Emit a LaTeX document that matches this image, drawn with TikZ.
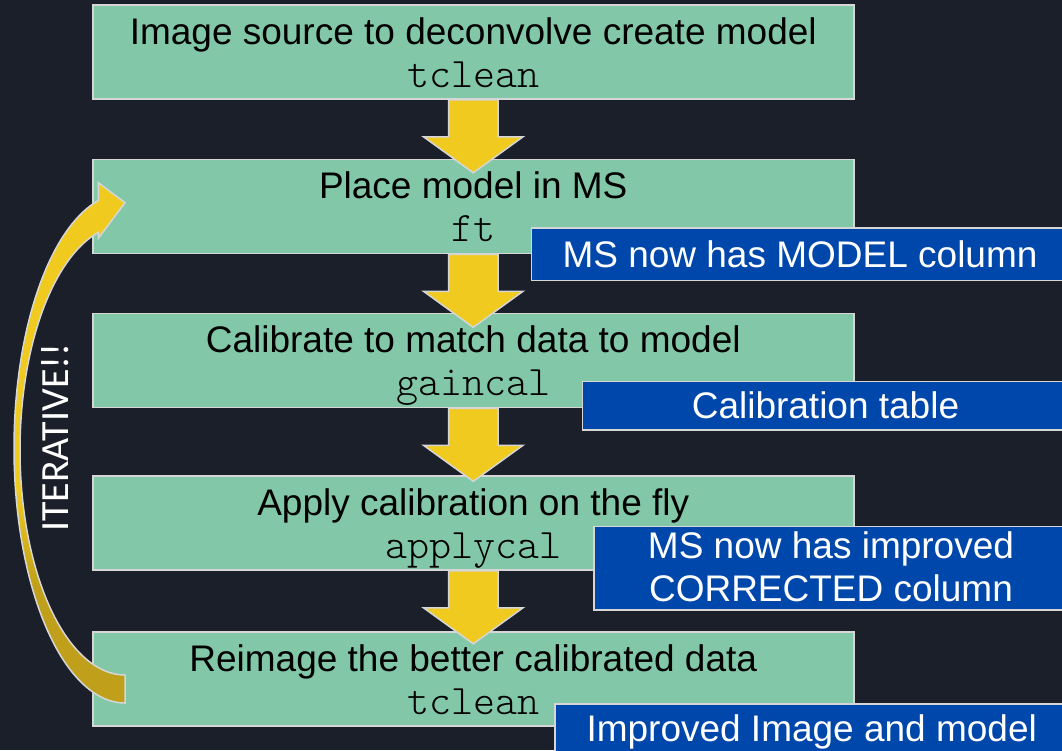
\documentclass[tikz,border=0pt]{standalone}
\usepackage{fontspec}
\setmainfont{Liberation Sans}
\setmonofont{Latin Modern Mono Light}
\newfontfamily\calib{Carlito}
\usetikzlibrary{calc}
\definecolor{bg}{HTML}{1B1F2A}
\definecolor{grn}{HTML}{82C8A8}
\definecolor{blu}{HTML}{0047AB}
\definecolor{yel}{HTML}{F0CA1E}
\definecolor{dkg}{HTML}{C0A01A}
\definecolor{edg}{HTML}{D6D6D6}
\newcommand\yarrow[1]{%
  \filldraw[yarr] ([xshift=-24.75pt]#1.south) -- ++(0,37) -- ++(-25,0)
    -- ([yshift=-73pt]#1.south) -- ([xshift=49.75pt,yshift=-37pt]#1.south)
    -- ++(-25,0) -- ([xshift=24.75pt]#1.south) -- cycle;}
\newcommand\curvypath{(125,703) -- plot[domain=90:256.1,samples=80] ({125+111*cos(\x)},{448+255*sin(\x)})
  -- (98.3,182.7) -- (125,202.7) -- (98.3,238.3)
  -- plot[domain=255.27:90,samples=80] ({125+105*cos(\x)},{450+225*sin(\x)}) -- cycle}
\begin{document}
\begin{tikzpicture}[x=1pt,y=-1pt,
  gbox/.style={draw=edg,line width=1.5pt,fill=grn,inner sep=0,minimum width=761pt,minimum height=94.3pt,anchor=north west},
  bluebox/.style={draw=edg,line width=1.5pt,fill=blu,inner sep=0,anchor=north west},
  yarr/.style={draw=edg,line width=1.5pt,fill=yel,line join=miter},
  tone/.style={font=\fontsize{37}{44}\selectfont,anchor=base,inner sep=0},
  ttwo/.style={font=\ttfamily\fontsize{42}{48}\selectfont,anchor=base,inner sep=0},
  wtxt/.style={tone,text=white}]
\useasboundingbox (0,0) rectangle (1062,750);
\fill[bg] (0,0) rectangle (1062,750);
\clip (0,0) rectangle (1062,750);
% green boxes
\node[gbox] (b1) at (92,4) {};
\node[gbox] (b2) at (92,158.5) {};
\node[gbox] (b3) at (92,312.5) {};
\node[gbox] (b4) at (92,475) {};
\node[gbox] (b5) at (92,631) {};
\node[tone] (b1a) at ([yshift=-40pt]b1.north) {Image source to deconvolve create model};
\node[ttwo] (b1b) at ([yshift=-83pt]b1.north) {tclean};
\node[tone] (b2a) at ([yshift=-40pt]b2.north) {Place model in MS};
\node[ttwo] (b2b) at ([yshift=-83pt]b2.north) {ft};
\node[tone] (b3a) at ([yshift=-40pt]b3.north) {Calibrate to match data to model};
\node[ttwo] (b3b) at ([yshift=-83pt]b3.north) {gaincal};
\node[tone] (b4a) at ([yshift=-40pt]b4.north) {Apply calibration on the fly};
\node[ttwo] (b4b) at ([yshift=-83pt]b4.north) {applycal};
\node[tone] (b5a) at ([yshift=-40pt]b5.north) {Reimage the better calibrated data};
\node[ttwo] (b5b) at ([yshift=-83pt]b5.north) {tclean};
% down arrows
\yarrow{b1}
\yarrow{b2}
\yarrow{b3}
\yarrow{b4}
% blue boxes
\node[bluebox,minimum width=539pt,minimum height=52.7pt] (c1) at (530.5,227) {};
\node[bluebox,minimum width=488pt,minimum height=48.6pt] (c2) at (581.7,380.7) {};
\node[bluebox,minimum width=476pt,minimum height=83.5pt] (c3) at (593,525.5) {};
\node[bluebox,minimum width=515pt,minimum height=52pt] (c4) at (554.3,703.3) {};
\node[wtxt] (c1t) at (800,267.5) {MS now has MODEL column};
\node[wtxt] (c2t) at (825.5,418) {Calibration table};
\node[wtxt] (c3t) at (831,558.5) {MS now has improved};
\node[wtxt] (c3u) at (831,601.5) {CORRECTED column};
\node[wtxt] (c4t) at (811.7,741.7) {Improved Image and model};
% curved iterative arrow
\fill[yel] \curvypath;
\begin{scope}
  \clip \curvypath;
  \shade[top color=yel,bottom color=dkg] (0,490) rectangle (140,585);
  \fill[dkg] (0,584) rectangle (140,710);
\end{scope}
\draw[edg,line width=1.5pt,line join=miter] \curvypath;
\node[rotate=90,text=white,font=\calib\fontsize{40}{46}\selectfont,inner sep=0] (it) at (55,437.5) {ITERATIVE!!};
\end{tikzpicture}
\end{document}
